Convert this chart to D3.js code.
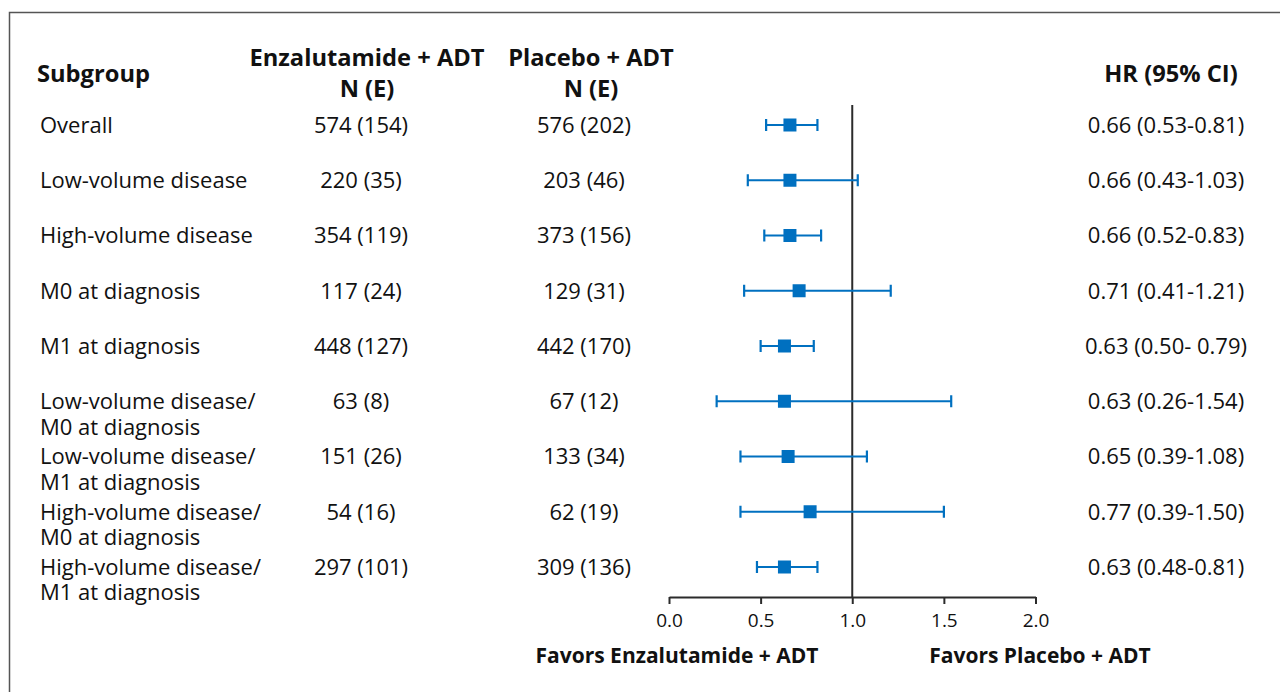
<!DOCTYPE html>
<html>
<head>
<meta charset="utf-8">
<script src="https://cdn.jsdelivr.net/npm/d3@7"></script>
<style>
  html, body { margin: 0; padding: 0; background: #fff; }
  svg { display: block; }
  text { font-family: "Open Sans", "Noto Sans", sans-serif; fill: #111; }
</style>
</head>
<body>
<svg id="chart" width="1280" height="692"></svg>
<script>
// Subgroup forest plot: hazard ratios with 95% confidence intervals
const subgroups = [
  ["Overall"],
  ["Low-volume disease"],
  ["High-volume disease"],
  ["M0 at diagnosis"],
  ["M1 at diagnosis"],
  ["Low-volume disease/", "M0 at diagnosis"],
  ["Low-volume disease/", "M1 at diagnosis"],
  ["High-volume disease/", "M0 at diagnosis"],
  ["High-volume disease/", "M1 at diagnosis"]
];
const enzaN = ["574 (154)", "220 (35)", "354 (119)", "117 (24)", "448 (127)", "63 (8)", "151 (26)", "54 (16)", "297 (101)"];
const placeboN = ["576 (202)", "203 (46)", "373 (156)", "129 (31)", "442 (170)", "67 (12)", "133 (34)", "62 (19)", "309 (136)"];
const hr = [0.66, 0.66, 0.66, 0.71, 0.63, 0.63, 0.65, 0.77, 0.63];
const ciLow = [0.53, 0.43, 0.52, 0.41, 0.50, 0.26, 0.39, 0.39, 0.48];
const ciHigh = [0.81, 1.03, 0.83, 1.21, 0.79, 1.54, 1.08, 1.50, 0.81];
const hrLabels = ["0.66 (0.53-0.81)", "0.66 (0.43-1.03)", "0.66 (0.52-0.83)", "0.71 (0.41-1.21)",
  "0.63 (0.50- 0.79)", "0.63 (0.26-1.54)", "0.65 (0.39-1.08)", "0.77 (0.39-1.50)", "0.63 (0.48-0.81)"];
const axisTicks = [0, 0.5, 1.0, 1.5, 2.0];

const svg = d3.select("#chart");
const blue = "#0070c0";
const dark = "#2b2b2b";
const fsBody = 22;     // row text
const fsHead = 23.7;   // column headers
const fsFav = 21;      // direction labels
const fsTick = 19;     // axis tick labels

// frame
svg.append("path")
  .attr("d", "M9.5,692V12.5H1280")
  .attr("fill", "none").attr("stroke", "#555").attr("stroke-width", 1.5);

const x = d3.scaleLinear().domain([0, 2]).range([669, 1035.5]);
const y = d3.scalePoint().domain(d3.range(subgroups.length)).range([125, 567]);
const axisY = 597;

// column headers
const head = svg.append("g").attr("font-weight", "bold").attr("font-size", fsHead);
head.append("text").attr("x", 37).attr("y", 81.5).text("Subgroup");
head.append("text").attr("x", 367).attr("y", 65.5).attr("text-anchor", "middle").text("Enzalutamide + ADT");
head.append("text").attr("x", 367).attr("y", 96.5).attr("text-anchor", "middle").text("N (E)");
head.append("text").attr("x", 591).attr("y", 65.5).attr("text-anchor", "middle").text("Placebo + ADT");
head.append("text").attr("x", 591).attr("y", 96.5).attr("text-anchor", "middle").text("N (E)");
head.append("text").attr("x", 1171).attr("y", 81.5).attr("text-anchor", "middle").text("HR (95% CI)");

// row labels (two-line subgroups wrap after the slash)
const rows = svg.append("g").attr("font-size", fsBody);
subgroups.forEach((lines, i) => {
  const t = rows.append("text").attr("x", 40).attr("y", y(i));
  lines.forEach((ln, j) => {
    t.append("tspan").attr("x", 40).attr("dy", j === 0 ? "0.36em" : 25.5).text(ln);
  });
});
rows.selectAll(".enza").data(enzaN).join("text")
  .attr("x", 361).attr("y", (d, i) => y(i)).attr("dy", "0.36em")
  .attr("text-anchor", "middle").text(d => d);
rows.selectAll(".plac").data(placeboN).join("text")
  .attr("x", 584).attr("y", (d, i) => y(i)).attr("dy", "0.36em")
  .attr("text-anchor", "middle").text(d => d);
rows.selectAll(".hr").data(hrLabels).join("text")
  .attr("x", 1166).attr("y", (d, i) => y(i)).attr("dy", "0.36em")
  .attr("text-anchor", "middle").text(d => d);

// reference line at HR = 1
svg.append("line")
  .attr("x1", x(1)).attr("x2", x(1)).attr("y1", 105).attr("y2", axisY)
  .attr("stroke", dark).attr("stroke-width", 2);

// confidence intervals with end caps
const ci = svg.append("g").attr("stroke", blue).attr("stroke-width", 2.2).attr("fill", "none");
hr.forEach((v, i) => {
  const cy = y(i);
  ci.append("line").attr("x1", x(ciLow[i])).attr("x2", x(ciHigh[i])).attr("y1", cy).attr("y2", cy);
  ci.append("line").attr("x1", x(ciLow[i])).attr("x2", x(ciLow[i])).attr("y1", cy - 6).attr("y2", cy + 6);
  ci.append("line").attr("x1", x(ciHigh[i])).attr("x2", x(ciHigh[i])).attr("y1", cy - 6).attr("y2", cy + 6);
});
// point estimates
svg.append("g").selectAll("rect").data(hr).join("rect")
  .attr("x", d => x(d) - 6.5).attr("y", (d, i) => y(i) - 6.5)
  .attr("width", 13).attr("height", 13).attr("fill", blue);

// x axis
const ax = svg.append("g").attr("transform", `translate(0,${axisY})`)
  .call(d3.axisBottom(x).tickValues(axisTicks).tickFormat(d3.format(".1f")).tickSize(7).tickSizeOuter(0));
ax.select(".domain").attr("stroke", dark).attr("stroke-width", 2);
ax.selectAll(".tick line").attr("stroke", dark).attr("stroke-width", 2);
ax.selectAll(".tick text").attr("font-size", fsTick).attr("font-family", null).attr("fill", "#111")
  .attr("y", 23).attr("dy", "0.36em");

// direction labels
const fav = svg.append("g").attr("font-weight", "bold").attr("font-size", fsFav).attr("text-anchor", "middle");
fav.append("text").attr("x", 677).attr("y", 655).attr("dy", "0.36em").text("Favors Enzalutamide + ADT");
fav.append("text").attr("x", 1040).attr("y", 655).attr("dy", "0.36em").text("Favors Placebo + ADT");
</script>
</body>
</html>
